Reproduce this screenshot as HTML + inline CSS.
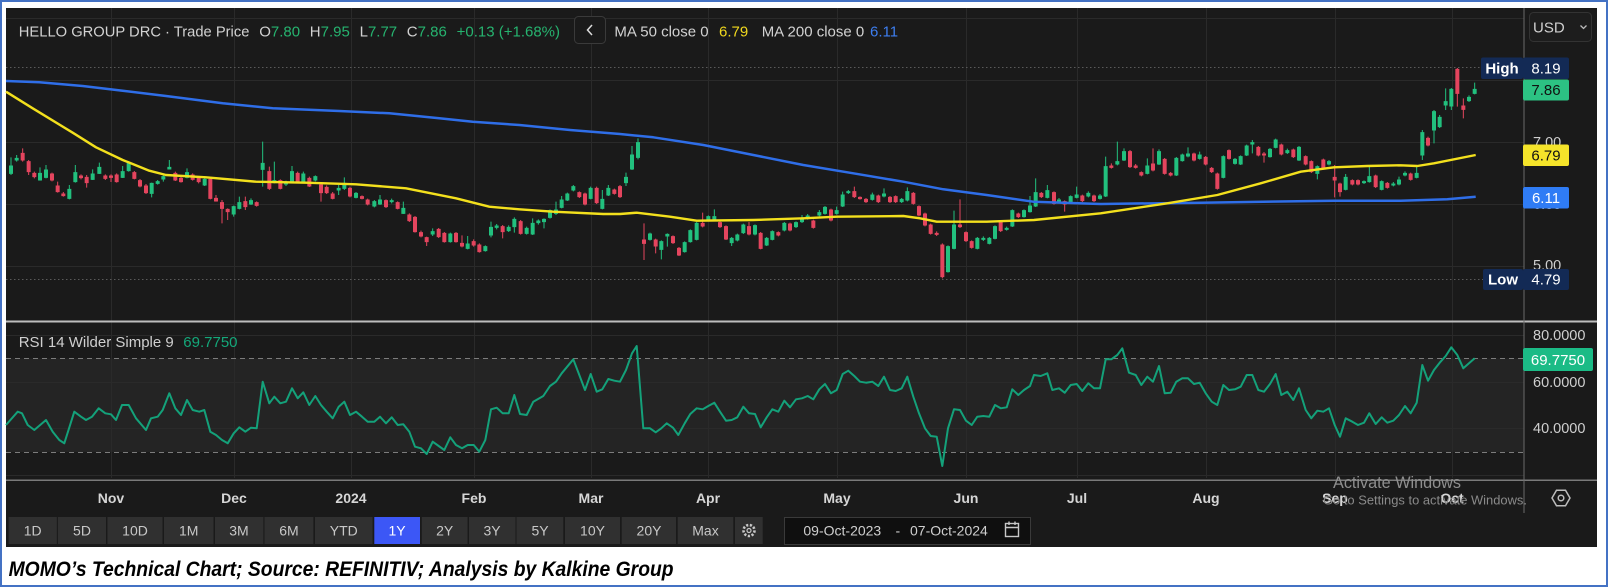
<!DOCTYPE html>
<html><head><meta charset="utf-8"><title>MOMO Technical Chart</title>
<style>html,body{margin:0;padding:0;background:#fff;}svg{display:block}</style></head>
<body>
<svg xmlns="http://www.w3.org/2000/svg" width="1608" height="587" viewBox="0 0 1608 587" font-family="'Liberation Sans', Arial, sans-serif">
<rect x="0" y="0" width="1608" height="587" fill="#ffffff"/>
<rect x="1" y="1" width="1606" height="585" fill="none" stroke="#4472c4" stroke-width="2"/>
<!-- dark chart area -->
<rect x="6" y="8" width="1591" height="539" fill="#1a1a1a"/>
<!-- RSI band -->
<rect x="6" y="358.5" width="1518" height="93.5" fill="#242424"/>
<!-- gridlines -->
<g stroke="#2a2a2a" stroke-width="1">
<path d="M6 18.5H1524M6 80.5H1524M6 142.5H1524M6 204.5H1524M6 266.5H1524M6 335.5H1524M6 382.5H1524M6 428.5H1524M6 475.5H1524"/>
<path d="M111.5 8V478M234.5 8V478M351.5 8V478M474.5 8V478M591.5 8V478M708.5 8V478M837.5 8V478M966.5 8V478M1077.5 8V478M1206.5 8V478M1335.5 8V478M1452.5 8V478"/>
</g>
<!-- high/low dotted -->
<path d="M6 67.5H1481M6 279.5H1483" stroke="#5a5a5a" stroke-width="1" stroke-dasharray="1.5 2.5"/>
<!-- RSI dashed -->
<path d="M6 358.5H1524M6 452.5H1524" stroke="#7c7c7c" stroke-width="1" stroke-dasharray="5 4"/>
<!-- separators -->
<rect x="6" y="320.5" width="1591" height="2" fill="#bdbdbd"/>
<rect x="6" y="479.5" width="1591" height="1.5" fill="#7a7a7a"/>
<rect x="1523.5" y="8" width="1" height="505" fill="#6a6a6a"/>

<!-- candles zoom region 1 -->
<g transform="translate(6,60) scale(0.333333)" stroke-width="3">
<path fill="#22c07e" stroke="#22c07e" d="M10.5 318h9v22h-9zM15 292V345M27.5 295h9v5h-9zM32 285V305M97.5 340h9v20h-9zM102 322V362M115.5 330h9v22h-9zM120 315V355M185.5 388h9v27h-9zM190 375V418M203.5 338h9v27h-9zM208 315V368M255.5 342h9v16h-9zM260 328V360M275.5 322h9v18h-9zM280 308V342M345.5 335h9v17h-9zM350 318V354M363.5 310h9v22h-9zM368 305V335M432.5 370h9v30h-9zM437 368V412M450.5 365h9v5h-9zM455 360V374M467.5 350h9v7h-9zM472 344V365M485.5 322h9v5h-9zM490 300V328M538.5 338h9v14h-9zM543 325V355M591.5 358h9v17h-9zM596 355V378M678.5 440h9v22h-9zM683 437V470M695.5 428h9v17h-9zM700 410V448M730.5 422h9v10h-9zM735 415V435M765.5 310h9v18h-9zM770 245V380M800.5 362h9v6h-9zM805 305V370M835.5 368h9v4h-9zM840 362V378M853.5 335h9v33h-9zM858 318V370M887.5 342h9v23h-9zM892 335V368M923.5 350h9v10h-9zM928 346V364M993.5 385h9v5h-9zM998 375V405M1010.5 370h9v15h-9zM1015 352V390M1045.5 400h9v12h-9zM1050 396V415M1100.5 425h9v13h-9zM1105 420V442M1117.5 420h9v12h-9zM1122 405V435M1152.5 422h9v3h-9zM1157 416V430M1187.5 445h9v15h-9zM1192 425V462M1275.5 515h9v7h-9zM1280 505V528M1328.5 522h9v23h-9zM1333 518V548M1380.5 552h9v13h-9zM1385 528V568M1433.5 560h9v12h-9zM1438 556V575M1450.5 502h9v23h-9zM1455 485V532M1467.5 498h9v4h-9zM1472 492V508M1503.5 502h9v10h-9zM1508 496V516M1520.5 478h9v22h-9zM1525 472V518"/>
<path fill="#e4455e" stroke="#e4455e" d="M45.5 280h9v20h-9zM50 265V305M63.5 305h9v30h-9zM68 300V345M80.5 340h9v10h-9zM85 335V355M133.5 342h9v18h-9zM138 338V364M150.5 378h9v17h-9zM155 365V398M167.5 402h9v5h-9zM172 396V410M220.5 348h9v5h-9zM225 343V358M237.5 352h9v16h-9zM242 345V383M293.5 348h9v7h-9zM298 343V360M310.5 348h9v4h-9zM315 343V366M327.5 345h9v20h-9zM332 340V368M380.5 338h9v17h-9zM385 333V358M397.5 362h9v16h-9zM402 357V382M415.5 378h9v20h-9zM420 372V402M503.5 340h9v20h-9zM508 335V363M520.5 355h9v10h-9zM525 350V368M555.5 345h9v13h-9zM560 340V362M573.5 355h9v10h-9zM578 350V370M608.5 358h9v57h-9zM613 355V418M625.5 415h9v8h-9zM630 405V425M643.5 428h9v17h-9zM648 420V490M660.5 448h9v7h-9zM665 445V480M713.5 425h9v15h-9zM718 410V450M747.5 428h9v8h-9zM752 424V440M785.5 335h9v50h-9zM790 320V390M818.5 362h9v23h-9zM823 358V388M870.5 340h9v25h-9zM875 335V368M905.5 355h9v23h-9zM910 350V381M940.5 375h9v23h-9zM945 370V425M957.5 382h9v16h-9zM962 376V402M975.5 402h9v13h-9zM980 396V418M1027.5 385h9v23h-9zM1032 380V412M1063.5 410h9v5h-9zM1068 406V418M1080.5 420h9v12h-9zM1085 416V436M1135.5 422h9v18h-9zM1140 418V444M1170.5 428h9v17h-9zM1175 424V448M1205.5 465h9v17h-9zM1210 460V486M1222.5 472h9v43h-9zM1227 468V518M1240.5 518h9v10h-9zM1245 512V532M1257.5 533h9v12h-9zM1262 530V558M1293.5 508h9v22h-9zM1298 504V534M1310.5 520h9v25h-9zM1315 516V548M1345.5 520h9v25h-9zM1350 516V548M1363.5 550h9v8h-9zM1368 526V562M1398.5 545h9v10h-9zM1403 538V560M1415.5 555h9v20h-9zM1420 550V578M1485.5 500h9v15h-9zM1490 495V535"/>
</g>
<!-- candles zoom region 2 -->
<g transform="translate(520,60) scale(0.333333)" stroke-width="3">
<path fill="#22c07e" stroke="#22c07e" d="M15.5 505h9v15h-9zM20 500V524M33.5 490h9v32h-9zM38 475V525M50.5 483h9v5h-9zM55 478V494M67.5 478h9v7h-9zM72 475V505M85.5 452h9v20h-9zM90 448V476M103.5 450h9v10h-9zM108 425V465M120.5 420h9v22h-9zM125 408V445M137.5 402h9v18h-9zM142 398V423M155.5 380h9v10h-9zM160 375V394M207.5 385h9v30h-9zM212 380V418M242.5 418h9v27h-9zM247 390V448M260.5 385h9v20h-9zM265 375V408M313.5 352h9v16h-9zM318 338V378M331.5 285h9v42h-9zM336 258V330M349.5 248h9v44h-9zM354 235V298M385.5 522h9v16h-9zM390 518V542M419.5 545h9v23h-9zM424 541V598M437.5 523h9v5h-9zM442 520V560M489.5 548h9v27h-9zM494 544V578M506.5 512h9v33h-9zM511 508V548M525.5 490h9v48h-9zM530 486V541M560.5 470h9v8h-9zM565 466V482M578.5 470h9v8h-9zM583 448V482M630.5 535h9v13h-9zM635 531V558M647.5 525h9v15h-9zM652 521V544M665.5 495h9v23h-9zM670 491V522M700.5 497h9v25h-9zM705 493V526M735.5 535h9v20h-9zM740 531V558M752.5 515h9v23h-9zM757 511V541M788.5 490h9v20h-9zM793 486V514M823.5 488h9v12h-9zM828 484V504M841.5 475h9v10h-9zM846 465V489M858.5 468h9v7h-9zM863 462V479M893.5 458h9v7h-9zM898 450V469M910.5 442h9v18h-9zM915 438V464M945.5 452h9v8h-9zM950 440V464M963.5 405h9v33h-9zM968 395V441M980.5 395h9v3h-9zM985 390V402M1052.5 405h9v13h-9zM1057 398V422M1087.5 402h9v6h-9zM1092 385V412M1140.5 418h9v7h-9zM1145 414V429M1157.5 395h9v25h-9zM1162 382V424M1279.5 560h9v75h-9zM1284 556V638M1297.5 495h9v70h-9zM1302 452V568M1367.5 535h9v30h-9zM1372 531V568M1385.5 535h9v3h-9zM1390 529V543M1403.5 535h9v15h-9zM1408 531V553M1420.5 500h9v35h-9zM1425 496V538M1455.5 505h9v3h-9zM1460 500V512M1472.5 452h9v46h-9zM1477 448V501M1507.5 452h9v18h-9zM1512 448V473M1525.5 438h9v17h-9zM1530 408V458"/>
<path fill="#e4455e" stroke="#e4455e" d="M-2.5 485h9v35h-9zM2 480V524M173.5 398h9v12h-9zM178 394V414M190.5 402h9v30h-9zM195 398V436M225.5 385h9v43h-9zM230 380V432M278.5 390h9v10h-9zM283 386V404M295.5 380h9v30h-9zM300 375V414M367.5 540h9v10h-9zM372 490V600M402.5 540h9v18h-9zM407 536V580M454.5 530h9v18h-9zM459 526V552M472.5 565h9v20h-9zM477 561V588M543.5 490h9v8h-9zM548 458V502M595.5 488h9v12h-9zM600 484V504M613.5 500h9v37h-9zM618 496V540M682.5 500h9v22h-9zM687 486V526M717.5 520h9v45h-9zM722 516V568M770.5 518h9v7h-9zM775 514V529M805.5 492h9v18h-9zM810 488V514M875.5 483h9v19h-9zM880 479V506M928.5 450h9v30h-9zM933 446V484M998.5 395h9v15h-9zM1003 380V414M1015.5 412h9v4h-9zM1020 409V419M1033.5 418h9v7h-9zM1038 414V429M1070.5 408h9v17h-9zM1075 404V429M1105.5 412h9v13h-9zM1110 408V429M1122.5 410h9v15h-9zM1127 406V429M1175.5 400h9v30h-9zM1180 396V434M1192.5 440h9v25h-9zM1197 436V469M1210.5 462h9v33h-9zM1215 458V499M1227.5 495h9v25h-9zM1232 491V524M1245.5 520h9v3h-9zM1250 514V528M1262.5 555h9v95h-9zM1267 550V655M1315.5 495h9v5h-9zM1320 418V504M1333.5 518h9v24h-9zM1338 514V546M1350.5 545h9v17h-9zM1355 541V566M1437.5 485h9v27h-9zM1442 481V516M1490.5 462h9v8h-9zM1495 458V474"/>
</g>
<!-- candles zoom region 3 -->
<g transform="translate(1034,60) scale(0.333333)" stroke-width="3">
<path fill="#22c07e" stroke="#22c07e" d="M0.5 398h9v40h-9zM5 355V441M35.5 392h9v20h-9zM40 375V415M70.5 420h9v5h-9zM75 414V429M105.5 410h9v18h-9zM110 406V431M123.5 405h9v7h-9zM128 380V415M158.5 400h9v8h-9zM163 394V412M193.5 408h9v7h-9zM198 402V419M210.5 320h9v88h-9zM215 290V411M245.5 305h9v7h-9zM250 245V316M265.5 275h9v25h-9zM270 265V303M335.5 318h9v22h-9zM340 295V343M370.5 275h9v37h-9zM375 268V315M422.5 295h9v50h-9zM427 291V348M440.5 285h9v17h-9zM445 281V305M457.5 282h9v6h-9zM462 262V292M492.5 285h9v10h-9zM497 275V299M563.5 290h9v62h-9zM568 286V355M598.5 298h9v12h-9zM603 294V314M615.5 290h9v22h-9zM620 286V315M633.5 258h9v27h-9zM638 254V288M650.5 248h9v4h-9zM655 240V280M703.5 268h9v22h-9zM708 264V293M720.5 240h9v22h-9zM725 236V265M755.5 272h9v6h-9zM760 266V282M790.5 262h9v38h-9zM795 258V303M845.5 320h9v20h-9zM850 316V358M880.5 305h9v7h-9zM885 300V316M930.5 352h9v36h-9zM935 342V391M985.5 365h9v3h-9zM990 361V372M1001.5 350h9v15h-9zM1006 318V368M1038.5 365h9v23h-9zM1043 361V391M1073.5 372h9v3h-9zM1078 366V379M1090.5 360h9v12h-9zM1095 350V376M1108.5 340h9v5h-9zM1113 334V349M1143.5 340h9v12h-9zM1148 320V355M1160.5 218h9v67h-9zM1165 210V300M1195.5 155h9v55h-9zM1200 150V250M1212.5 172h9v28h-9zM1217 165V204M1230.5 125h9v10h-9zM1235 85V150M1247.5 88h9v50h-9zM1252 84V150M1300.5 112h9v10h-9zM1305 106V126M1317.5 88h9v12h-9zM1322 68V103"/>
<path fill="#e4455e" stroke="#e4455e" d="M17.5 400h9v10h-9zM22 396V414M55.5 398h9v32h-9zM60 394V434M87.5 425h9v7h-9zM92 421V455M140.5 408h9v14h-9zM145 404V426M175.5 408h9v14h-9zM180 404V426M227.5 318h9v4h-9zM232 310V326M283.5 275h9v45h-9zM288 270V324M300.5 318h9v4h-9zM305 312V326M317.5 338h9v7h-9zM322 334V349M352.5 312h9v18h-9zM357 265V334M387.5 298h9v42h-9zM392 294V344M405.5 340h9v5h-9zM410 336V349M475.5 282h9v18h-9zM480 278V304M510.5 292h9v20h-9zM515 288V316M528.5 325h9v10h-9zM533 321V339M545.5 342h9v43h-9zM550 338V389M580.5 272h9v23h-9zM585 268V299M668.5 262h9v23h-9zM673 258V289M685.5 282h9v3h-9zM690 276V308M737.5 255h9v27h-9zM742 251V286M773.5 270h9v20h-9zM778 266V294M810.5 290h9v22h-9zM815 286V316M827.5 305h9v30h-9zM832 301V339M863.5 300h9v25h-9zM868 296V329M897.5 352h9v8h-9zM902 315V412M913.5 372h9v23h-9zM918 368V410M950.5 362h9v10h-9zM955 358V376M967.5 362h9v10h-9zM972 358V376M1020.5 348h9v32h-9zM1025 344V384M1055.5 370h9v12h-9zM1060 366V386M1125.5 342h9v16h-9zM1130 338V362M1177.5 235h9v20h-9zM1182 230V259M1265.5 28h9v72h-9zM1270 24V140M1283.5 138h9v10h-9zM1288 115V175"/>
</g>

<!-- moving averages -->
<polyline fill="none" stroke="#2f6ee8" stroke-width="2.5" stroke-linejoin="round" points="6,81 39.3,82.3 82.7,86 122.7,90.7 166,96 222.7,103.3 272.7,108.3 339.3,111 389.3,113.3 439.3,118.3 472.7,121.7 519.3,125 570,130 620,134 653.3,137.3 703.3,145 753.3,155 803.3,165 853.3,173.3 903.3,181.7 943.3,189.3 986.7,195 1033.3,201.7 1100.7,204 1200.7,202.7 1334,200.7 1400.7,200.7 1447.3,199.3 1475.7,196.7"/>
<polyline fill="none" stroke="#f3e01d" stroke-width="2.4" stroke-linejoin="round" points="6,91.7 32.7,108.3 72.7,132.7 96,147.3 122.7,160 149.3,170.7 166,175 206,177.3 256,181.7 306,182.7 356,184.3 406,188.3 456,198.3 489.3,206.7 519.3,209.3 553.3,211.7 603.3,214 620,214 636.7,212.7 670,216.7 696.7,220.7 753.3,220 803.3,218.3 836.7,216.7 903.3,216 920,218.3 936.7,221.7 986.7,221.7 1034,220 1100.7,213.3 1167.3,203.3 1217.3,195 1260.7,183.3 1300.7,171.7 1334,167.3 1367.3,166 1400.7,165.3 1417.3,166 1434,163.3 1475.7,155"/>

<!-- RSI -->
<polyline fill="none" stroke="#14a17a" stroke-width="2" stroke-linejoin="round" points="6,425 17.7,411.7 22,413.3 27.7,425 34.3,430 46,420 52.7,431.7 59.3,440 64.3,443.3 74.3,411.7 81,416.7 86,420 92,416.7 98.7,408.3 105.3,413.3 111,414.3 116,420 122,405 128.7,405 136,418.3 146,430 151,418.3 157.7,416.7 162.7,410 169.3,393.3 175.3,408.3 181,415 187,400 192.7,410 199.3,411.7 204.3,410 210.3,431.7 216,435 222,440 227.7,443.3 233.7,433.3 239.3,427.3 245.3,431.7 251,427.7 256.7,428.3 262.7,381.7 269.3,403.3 274.3,396.7 280.3,403.3 286,401.7 292,388.3 297.7,398.3 303.3,392.3 309.3,405 315.3,396 321,405 326.7,411.7 332.7,418.3 338.7,406.7 344.3,401.7 350,415 356,411.7 362,416.7 367.7,421.7 374.3,421.7 380,416.7 386,423.3 391.7,417.3 397.7,425 403.3,424.3 409.3,431.7 415,446.7 421,448.3 426.7,454 432.7,441.7 438.7,446 444.3,450 450.3,437.3 456,445 462,448.3 467.7,445 473.7,445 479.3,451.7 485.3,440 491,409.3 496.7,407.7 502.7,413.3 508.7,413.3 514.3,395 520,414 526.7,415 533.3,401.7 543.3,396 550,386 556,381.7 561.7,373.3 573.3,359.3 579.3,375 585,390 590.7,374 596.7,391.7 602.3,389.3 608.3,379 614.3,380.7 620,381.7 626,370 632,353.3 636.7,346 643.3,428.3 650,428.3 655.7,432.3 661.3,428.3 666.7,423.3 673,427.7 678.3,435 684.7,423.3 690.3,414 696.7,408.3 702.7,409.3 708.3,406 714.3,402.7 720,411.7 726,420.7 731.7,420 737.3,417.3 743.3,406.7 749,413.3 755,414 760.7,427.3 766.7,417.3 772.3,409.3 778.3,411.7 784.3,400.7 790,407.3 796,399.3 802,398.3 807.7,396 813.3,399.3 819.3,389.3 825,384 831,393.3 836.7,390 842.7,374 848.3,370.7 854.3,376 860,381.7 866,382.7 872.3,381.7 878.3,386 884,376.7 890,390 895.7,391 901.7,388.3 907.3,376.7 913.3,396.7 919,413.3 925,428.3 930.7,436 936.7,436.7 942.3,466 948,428.3 954,409.3 960,410 966,420.7 971.7,425 977.3,416.7 983.3,416 989.3,416.7 995,405 1000.7,408.3 1006.7,407.3 1012.3,389.3 1018.3,395 1024,390 1030,386 1034,375 1040.7,376 1047.3,373.3 1052.3,390 1059,388.3 1064.7,392.7 1070.7,385 1076.7,384 1082.3,391 1088.3,383.3 1094,388.3 1100,388.3 1105.7,359.3 1111.3,359.3 1117.3,355 1122.3,348.3 1129,372.7 1135.7,375 1141.3,385 1147.3,376.7 1153,381.7 1159,366 1164.7,393.3 1170.7,392.7 1176.3,381.7 1182.3,378.3 1188,378.3 1194,384 1199.7,382.7 1205.7,393.3 1211.7,401.7 1217.3,405 1223.3,385 1229,390 1235,389.3 1240.7,386.7 1246.7,375 1252.3,375 1258.3,390 1264,391.7 1270,384 1275.7,374 1281.3,395 1287.3,391.7 1293.3,400 1299,388.3 1305.7,410 1311.3,418.3 1317.3,410.7 1323.3,411.7 1329,408.3 1334.7,425 1340,436.7 1345.7,418.3 1352.3,421.7 1358,425 1364,422.7 1369.3,413.3 1375.7,424 1381.7,417.3 1387.3,422.7 1393.3,420.7 1399,415 1405,406 1410.7,413.3 1416.7,402.7 1422.3,365 1428,380.7 1434,370 1439.7,362.7 1445.7,356 1451.3,347.3 1457.3,355 1463.3,368.3 1469,363.3 1474.7,358.3"/>

<!-- header -->
<g font-size="15">
<text x="18.8" y="36.5" fill="#d2d2d2" textLength="230.6" lengthAdjust="spacingAndGlyphs">HELLO GROUP DRC · Trade Price</text>
<text x="259.2" y="36.5" fill="#d2d2d2">O<tspan fill="#26b36f">7.80</tspan></text>
<text x="309.8" y="36.5" fill="#d2d2d2">H<tspan fill="#26b36f">7.95</tspan></text>
<text x="359.6" y="36.5" fill="#d2d2d2">L<tspan fill="#26b36f">7.77</tspan></text>
<text x="406.8" y="36.5" fill="#d2d2d2">C<tspan fill="#26b36f">7.86</tspan></text>
<text x="456.6" y="36.5" fill="#26b36f">+0.13 (+1.68%)</text>
<text x="614.4" y="36.5" fill="#d2d2d2">MA 50 close 0</text>
<text x="719" y="36.5" fill="#f0d81e">6.79</text>
<text x="761.7" y="36.5" fill="#d2d2d2">MA 200 close 0</text>
<text x="870" y="36.5" fill="#3d7ef0">6.11</text>
<text x="18.7" y="347" fill="#cfcfcf">RSI 14 Wilder Simple 9</text>
<text x="183.3" y="347" fill="#14a87a">69.7750</text>
</g>
<rect x="574.5" y="16.5" width="31" height="27" rx="4" fill="#1a1a1a" stroke="#3a3a3a"/>
<path d="M592 25l-4.5 5 4.5 5" fill="none" stroke="#dcdcdc" stroke-width="1.5"/>

<!-- USD -->
<rect x="1529.5" y="12.5" width="62" height="29" rx="4" fill="#1d1d1d" stroke="#333"/>
<text x="1533" y="32.5" font-size="15" fill="#d0d0d0">USD</text>
<path d="M1580.5 25.5l3 3 3-3" fill="none" stroke="#bbbbbb" stroke-width="1.3"/>

<!-- right axis ticks -->
<g font-size="14.5" fill="#cfcfcf">
<text x="1533" y="147">7.00</text>
<text x="1533" y="209">6.00</text>
<text x="1533" y="270">5.00</text>
<text x="1533" y="340">80.0000</text>
<text x="1533" y="387">60.0000</text>
<text x="1533" y="433">40.0000</text>
</g>
<!-- price labels -->
<rect x="1481" y="57.5" width="42" height="21.5" rx="2" fill="#132a55"/>
<rect x="1523" y="57.5" width="46" height="21.5" rx="2" fill="#132a55"/>
<text x="1502" y="73.5" font-size="15" font-weight="bold" fill="#ffffff" text-anchor="middle">High</text>
<text x="1546" y="73.5" font-size="15" fill="#ffffff" text-anchor="middle">8.19</text>
<rect x="1523" y="79.5" width="46" height="21" rx="2" fill="#2cc283"/>
<text x="1546" y="95" font-size="15" fill="#111" text-anchor="middle">7.86</text>
<rect x="1523" y="144.5" width="46" height="21.5" rx="2" fill="#f5e42a"/>
<text x="1546" y="160.5" font-size="15" fill="#111" text-anchor="middle">6.79</text>
<rect x="1523" y="187" width="46" height="21.5" rx="2" fill="#2f7cf5"/>
<text x="1546" y="203" font-size="15" fill="#ffffff" text-anchor="middle">6.11</text>
<rect x="1483" y="269" width="40" height="21" rx="2" fill="#132a55"/>
<rect x="1523" y="269" width="46" height="21" rx="2" fill="#132a55"/>
<text x="1503" y="284.5" font-size="15" font-weight="bold" fill="#ffffff" text-anchor="middle">Low</text>
<text x="1546" y="284.5" font-size="15" fill="#ffffff" text-anchor="middle">4.79</text>
<rect x="1523" y="348" width="70" height="23" rx="2" fill="#1bbb86"/>
<text x="1558" y="365" font-size="15" fill="#ffffff" text-anchor="middle">69.7750</text>

<!-- time axis labels -->
<g font-size="14" font-weight="bold" fill="#d6d6d6" text-anchor="middle">
<text x="111" y="503">Nov</text>
<text x="234" y="503">Dec</text>
<text x="351" y="503">2024</text>
<text x="474" y="503">Feb</text>
<text x="591" y="503">Mar</text>
<text x="708" y="503">Apr</text>
<text x="837" y="503">May</text>
<text x="966" y="503">Jun</text>
<text x="1077" y="503">Jul</text>
<text x="1206" y="503">Aug</text>
<text x="1335" y="503">Sep</text>
<text x="1452" y="503">Oct</text>
</g>
<!-- watermark -->
<text x="1333" y="488" font-size="17" fill="#8e8e8e" textLength="128" lengthAdjust="spacingAndGlyphs">Activate Windows</text>
<text x="1323" y="504.5" font-size="12.5" fill="#8a8a8a" textLength="204" lengthAdjust="spacingAndGlyphs">Go to Settings to activate Windows.</text>
<!-- bottom right hex icon -->
<polygon points="1552,498 1556.5,490.2 1565.5,490.2 1570,498 1565.5,505.8 1556.5,505.8" fill="none" stroke="#bdbdbd" stroke-width="1.5"/>
<circle cx="1561" cy="498" r="2.8" fill="none" stroke="#bdbdbd" stroke-width="1.5"/>

<!-- buttons -->
<g fill="#303030">
<rect x="8.6" y="517" width="48.2" height="27"/>
<rect x="57.9" y="517" width="48.1" height="27"/>
<rect x="107.4" y="517" width="55.1" height="27"/>
<rect x="164" y="517" width="49.5" height="27"/>
<rect x="215" y="517" width="48.4" height="27"/>
<rect x="264.5" y="517" width="48.9" height="27"/>
<rect x="315" y="517" width="57.6" height="27"/>
<rect x="421.8" y="517" width="45.8" height="27"/>
<rect x="469" y="517" width="46.5" height="27"/>
<rect x="516.5" y="517" width="46.8" height="27"/>
<rect x="565" y="517" width="55" height="27"/>
<rect x="621.7" y="517" width="54.3" height="27"/>
<rect x="677.7" y="517" width="55.6" height="27"/>
<rect x="735" y="517" width="27.7" height="27"/>
</g>
<rect x="374.3" y="517" width="45.7" height="27" fill="#3c57f6"/>
<g font-size="14" fill="#c8c8c8" text-anchor="middle">
<text x="32.7" y="535.5">1D</text>
<text x="82" y="535.5">5D</text>
<text x="135" y="535.5">10D</text>
<text x="188.7" y="535.5">1M</text>
<text x="239" y="535.5">3M</text>
<text x="289" y="535.5">6M</text>
<text x="343.8" y="535.5">YTD</text>
<text x="397" y="535.5" fill="#ffffff">1Y</text>
<text x="444.7" y="535.5">2Y</text>
<text x="492" y="535.5">3Y</text>
<text x="540" y="535.5">5Y</text>
<text x="592.5" y="535.5">10Y</text>
<text x="649" y="535.5">20Y</text>
<text x="705.5" y="535.5">Max</text>
</g>
<circle cx="749" cy="530.5" r="5.5" fill="none" stroke="#c8c8c8" stroke-width="2.6" stroke-dasharray="2.2 1.6"/>
<circle cx="749" cy="530.5" r="2" fill="none" stroke="#c8c8c8" stroke-width="1.2"/>
<!-- date range -->
<rect x="784.5" y="517.5" width="246" height="27" fill="#0f0f0f" stroke="#3a3a3a"/>
<g font-size="14" fill="#cfcfcf">
<text x="803.4" y="535.5">09-Oct-2023</text>
<text x="895.5" y="535.5">-</text>
<text x="910" y="535.5">07-Oct-2024</text>
</g>
<rect x="1005.5" y="523.5" width="13" height="13" fill="none" stroke="#c8c8c8" stroke-width="1.4"/>
<path d="M1005.5 527.5H1018.5M1009 521.5V525M1015 521.5V525" stroke="#c8c8c8" stroke-width="1.4"/>

<!-- caption -->
<text x="8.6" y="576" font-size="21" font-weight="bold" font-style="italic" fill="#000000" textLength="665" lengthAdjust="spacingAndGlyphs">MOMO’s Technical Chart; Source: REFINITIV; Analysis by Kalkine Group</text>
</svg>
</body></html>
